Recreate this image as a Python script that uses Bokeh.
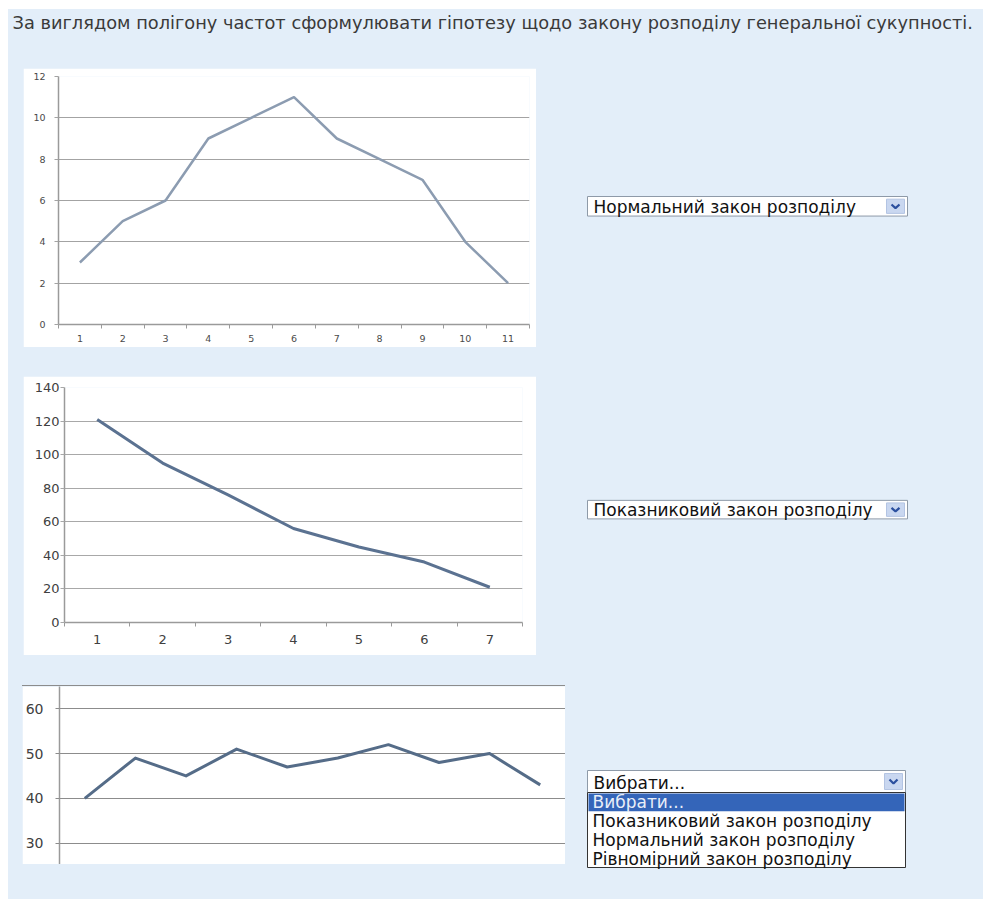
from bokeh.plotting import figure
from bokeh.layouts import row, column
from bokeh.models import Range1d, FixedTicker, Spacer
from bokeh.embed import file_html
from bokeh.resources import INLINE
from bokeh.core.properties import value

# ---- page texts ----
TITLE = "За виглядом полігону частот сформулювати гіпотезу щодо закону розподілу генеральної сукупності."
OPTIONS = ["Вибрати...", "Показниковий закон розподілу",
           "Нормальний закон розподілу", "Рівномірний закон розподілу"]
ANSWER_1 = "Нормальний закон розподілу"
ANSWER_2 = "Показниковий закон розподілу"
ANSWER_3 = "Вибрати..."

# ---- polygon 1 (bell shaped) ----
poly1_x = [1, 2, 3, 4, 5, 6, 7, 8, 9, 10, 11]
poly1_y = [3, 5, 6, 9, 10, 11, 9, 8, 7, 4, 2]
poly1_yticks = [0, 2, 4, 6, 8, 10, 12]

# ---- polygon 2 (decreasing) ----
poly2_x = [1, 2, 3, 4, 5, 6, 7]
poly2_y = [121, 95, 76, 56, 45, 36, 21]
poly2_yticks = [0, 20, 40, 60, 80, 100, 120, 140]

# ---- polygon 3 (flat) ----
poly3_x = [1, 2, 3, 4, 5, 6, 7, 8, 9, 10]
poly3_y = [40, 49, 45, 51, 47, 49, 52, 48, 50, 43]
poly3_yticks = [30, 40, 50, 60]

BLUE = "#e3eef9"
FONT = "DejaVu Sans"


def polygon_chart(xs, ys, yticks, y_lo, y_hi, width, height, borders,
                  line_color, line_width, grid_color, label_size, label_color,
                  y_standoff, x_standoff=8, show_x=True):
    left, right, top, bottom = borders
    p = figure(width=width, height=height,
               x_range=Range1d(0.5, len(xs) + 0.5), y_range=Range1d(y_lo, y_hi),
               output_backend="svg", toolbar_location=None,
               min_border_left=left, min_border_right=right,
               min_border_top=top, min_border_bottom=bottom,
               x_axis_location="below" if show_x else None)
    p.background_fill_color = "white"
    p.border_fill_color = "white"
    p.outline_line_color = None

    p.xgrid.visible = False
    p.ygrid.ticker = FixedTicker(ticks=yticks)
    p.ygrid.grid_line_color = grid_color
    p.ygrid.grid_line_width = 1.2

    ya = p.yaxis[0]
    ya.ticker = FixedTicker(ticks=yticks)
    ya.axis_line_color = "#9a9a9a"
    ya.axis_line_width = 1.5
    ya.major_tick_out = 4
    ya.major_tick_in = 0
    ya.minor_tick_out = 0
    ya.minor_tick_in = 0
    ya.major_tick_line_color = grid_color
    ya.major_label_standoff = y_standoff
    ya.major_label_text_font = FONT
    ya.major_label_text_font_size = f"{label_size}px"
    ya.major_label_text_color = label_color

    if show_x:
        xa = p.xaxis[0]
        xa.ticker = FixedTicker(ticks=xs,
                                minor_ticks=[x - 0.5 for x in xs] + [xs[-1] + 0.5])
        xa.axis_line_color = "#9a9a9a"
        xa.axis_line_width = 1.5
        xa.major_tick_out = 0
        xa.major_tick_in = 0
        xa.minor_tick_out = 4
        xa.minor_tick_in = 0
        xa.minor_tick_line_color = "#9a9a9a"
        xa.major_label_standoff = x_standoff
        xa.major_label_text_font = FONT
        xa.major_label_text_font_size = f"{label_size}px"
        xa.major_label_text_color = label_color

    p.line(xs, ys, line_color=line_color, line_width=line_width, line_join="round")
    return p


def page_panel(x0, x1, y0, y1):
    """A blank strip of the page, addressed in page pixel coordinates."""
    p = figure(width=int(x1 - x0), height=int(y1 - y0),
               x_range=Range1d(x0, x1), y_range=Range1d(y1, y0),
               output_backend="svg", toolbar_location=None,
               x_axis_location=None, y_axis_location=None, min_border=0)
    p.grid.visible = False
    p.background_fill_color = BLUE
    p.border_fill_color = BLUE
    p.outline_line_color = None
    return p


def draw_select(p, left, top, width, height, label):
    p.quad(left=[left], right=[left + width], top=[top], bottom=[top + height],
           fill_color="white", line_color="#8e9aa8", line_width=1)
    bl, br = left + width - 21, left + width - 3
    bt, bb = top + 3, top + height - 3
    p.quad(left=[bl], right=[br], top=[bt], bottom=[bb],
           fill_color="#c9d7f0", line_color="#b3c4e3", line_width=1)
    cx, cy = (bl + br) / 2, (bt + bb) / 2
    p.line([cx - 4, cx, cx + 4], [cy - 2, cy + 2, cy - 2],
           line_color="#2b4f9e", line_width=2.2)
    p.text(x=[left + 6], y=[top + height / 2 + 1], text=[label],
           text_font=value(FONT), text_font_size="17px", text_color="#111111",
           text_baseline="middle", text_align="left")


# ---- title strip ----
title_fig = page_panel(8, 983, 9, 68)
title_fig.text(x=[12], y=[22], text=[TITLE], text_font=value(FONT),
               text_font_size="17.8px", text_color="#3a3a3a",
               text_baseline="middle", text_align="left")

# ---- charts ----
chart1 = polygon_chart(poly1_x, poly1_y, poly1_yticks, 0, 12, 513, 279,
                       (35, 7, 8, 23), "#8c9cb1", 2.5, "#a3a3a3", 9.5, "#4a4a4a", 9,
                       x_standoff=6)
chart2 = polygon_chart(poly2_x, poly2_y, poly2_yticks, 0, 140, 513, 279,
                       (41, 14, 11, 33), "#5b7291", 3, "#a8a8a8", 13, "#404040", 1)
chart3 = polygon_chart(poly3_x, poly3_y, poly3_yticks, 25.2, 65.0, 543, 178,
                       (36, 0, 0, 0), "#556c88", 3, "#8c8c8c", 14, "#404040", 12,
                       show_x=False)

# ---- answer selectors ----
side1 = page_panel(536, 983, 68, 347)
draw_select(side1, 587, 203, 320, 22, ANSWER_1)

side2 = page_panel(536, 983, 376, 655)
draw_select(side2, 587, 510, 320, 22, ANSWER_2)

side3 = page_panel(565, 983, 685, 899)
draw_select(side3, 587, 770, 318, 22, ANSWER_3)
# opened option list
list_top, row_h = 792, 18.75
side3.quad(left=[587], right=[905], top=[list_top], bottom=[list_top + row_h * len(OPTIONS)],
           fill_color="white", line_color="#333333", line_width=1)
side3.quad(left=[588], right=[904], top=[list_top + 1], bottom=[list_top + row_h],
           fill_color="#3465b9", line_color=None)
side3.text(x=[592] * len(OPTIONS),
           y=[list_top + row_h * (i + 0.5) + 0.5 for i in range(len(OPTIONS))],
           text=OPTIONS, text_font=value(FONT), text_font_size="17px",
           text_color=["#e8eef8"] + ["#111111"] * (len(OPTIONS) - 1),
           text_baseline="middle", text_align="left")

# ---- page assembly ----
band1 = row(Spacer(width=15, height=279), chart1, side1)
band2 = row(Spacer(width=15, height=279), chart2, side2)
chart3_box = column(Spacer(width=543, height=1, styles={"background-color": "#8c8c8c"}),
                    chart3,
                    Spacer(width=543, height=35))
band3 = row(Spacer(width=14, height=214), chart3_box, side3)

panel = column(title_fig, band1, Spacer(width=975, height=29), band2,
               Spacer(width=975, height=30), band3,
               styles={"background-color": BLUE})
page = column(Spacer(width=983, height=9),
              row(Spacer(width=8, height=890), panel),
              styles={"background-color": "white"})

open("out.html", "w").write(file_html(page, INLINE))
